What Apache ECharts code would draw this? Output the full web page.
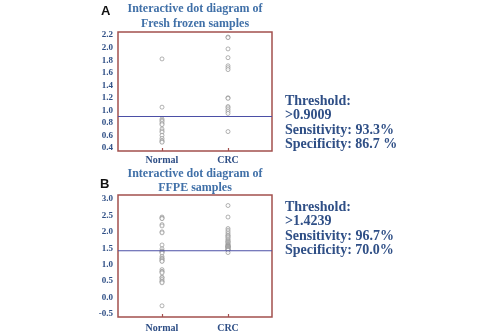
<!DOCTYPE html>
<html>
<head>
<meta charset="utf-8">
<script src="https://cdn.jsdelivr.net/npm/echarts@6/dist/echarts.min.js"></script>
<style>
  html, body { margin: 0; padding: 0; background: #fff; }
  #chart { width: 482px; height: 333px; }
</style>
</head>
<body>
<div id="chart"></div>
<script>
// groups on the x axis
var categories = ['Normal', 'CRC'];

// A: fresh frozen samples
var frozenNormal = [1.82, 1.05, 0.86, 0.84, 0.82, 0.79, 0.77, 0.70, 0.67, 0.65, 0.60, 0.55, 0.52, 0.50, 0.49];
var frozenCrc = [2.17, 2.16, 1.98, 1.84, 1.71, 1.68, 1.65, 1.20, 1.19, 1.06, 1.04, 1.01, 0.98, 0.95, 0.66];
var frozenTicks = [0.4, 0.6, 0.8, 1.0, 1.2, 1.4, 1.6, 1.8, 2.0, 2.2];
var frozenThreshold = 0.9009;
var frozenNotes = ['Threshold:', '>0.9009', 'Sensitivity: 93.3%', 'Specificity: 86.7 %'];

// B: FFPE samples
var ffpeNormal = [2.45, 2.42, 2.40, 2.22, 2.18, 2.00, 1.97, 1.60, 1.48,
    1.42, 1.40, 1.38, 1.35, 1.25, 1.20, 1.18, 1.15, 1.12, 1.10,
    0.85, 0.80, 0.78, 0.75, 0.62, 0.60, 0.55, 0.50, 0.48, 0.45, -0.25];
var ffpeCrc = [2.80, 2.45, 2.10, 2.05, 2.00, 1.95, 1.90, 1.88, 1.85, 1.82,
    1.78, 1.75, 1.72, 1.70, 1.68, 1.65, 1.62, 1.60, 1.58, 1.57,
    1.55, 1.55, 1.53, 1.52, 1.50, 1.48, 1.46, 1.45, 1.44, 1.37];
var ffpeTicks = [-0.5, 0.0, 0.5, 1.0, 1.5, 2.0, 2.5, 3.0];
var ffpeThreshold = 1.4239;
var ffpeNotes = ['Threshold:', '>1.4239', 'Sensitivity: 96.7%', 'Specificity: 70.0%'];

var serif = '"Liberation Serif", "DejaVu Serif", serif';
var labelBlue = '#2f4f86';
var titleBlue = '#4070a8';
var boxRed = '#a3504e';

function pts(vals, x) {
    return vals.map(function(v) { return [x, v]; });
}

function xAxisFor(idx) {
    return {
        type: 'value', gridIndex: idx, min: 1 / 3, max: 8 / 3,
        position: 'bottom',
        splitLine: { show: false },
        axisLine: { show: false, onZero: false },
        axisTick: { show: true, inside: true, length: 3, customValues: [1, 2],
            lineStyle: { color: boxRed, width: 1.2 } },
        axisLabel: {
            customValues: [1, 2],
            formatter: function(v) { return categories[Math.round(v) - 1]; },
            fontFamily: serif, fontWeight: 'bold', fontSize: 10, color: labelBlue,
            margin: idx === 0 ? 4 : 6
        }
    };
}

function yAxisFor(idx, min, max, ticks) {
    return {
        type: 'value', gridIndex: idx, min: min, max: max,
        splitLine: { show: false },
        axisLine: { show: false },
        axisTick: { show: false },
        axisLabel: {
            customValues: ticks,
            formatter: function(v) { return v.toFixed(1); },
            fontFamily: serif, fontWeight: 'bold', fontSize: 9, color: labelBlue,
            margin: 5
        }
    };
}

function dotSeries(vals, x, idx) {
    return {
        type: 'scatter', xAxisIndex: idx, yAxisIndex: idx,
        data: pts(vals, x),
        symbol: 'circle', symbolSize: 4,
        itemStyle: { color: '#fff', borderColor: '#888', borderWidth: 0.8 },
        silent: true
    };
}

function thresholdLine(idx, v) {
    return {
        type: 'line', xAxisIndex: idx, yAxisIndex: idx,
        data: [[1 / 3, v], [8 / 3, v]],
        symbol: 'none', silent: true,
        lineStyle: { color: '#4b4fa6', width: 1.2 }
    };
}

function notes(lines, top) {
    return lines.map(function(s, i) {
        return {
            type: 'text', left: 285, top: top + i * 14.5,
            style: { text: s, font: 'bold 14px ' + serif, fill: labelBlue }
        };
    });
}

function titleText(s, y) {
    return {
        type: 'text', x: 195, y: y,
        style: { text: s, font: 'bold 12px ' + serif, fill: titleBlue, textAlign: 'center', textVerticalAlign: 'middle' }
    };
}

var myChart = echarts.init(document.getElementById('chart'));

var option = {
    animation: false,
    grid: [
        { left: 118, top: 32, width: 154, height: 119, show: true, borderColor: boxRed, borderWidth: 1.5 },
        { left: 118, top: 195, width: 154, height: 122, show: true, borderColor: boxRed, borderWidth: 1.5 }
    ],
    xAxis: [xAxisFor(0), xAxisFor(1)],
    yAxis: [
        yAxisFor(0, 0.35, 2.25, frozenTicks),
        yAxisFor(1, -0.59, 3.12, ffpeTicks)
    ],
    series: [
        thresholdLine(0, frozenThreshold),
        dotSeries(frozenNormal, 1, 0),
        dotSeries(frozenCrc, 2, 0),
        thresholdLine(1, ffpeThreshold),
        dotSeries(ffpeNormal, 1, 1),
        dotSeries(ffpeCrc, 2, 1)
    ],
    graphic: [
        { type: 'text', left: 101, top: 5, style: { text: 'A', font: 'bold 13px "Liberation Sans", Arial, sans-serif', fill: '#111' } },
        { type: 'text', left: 100, top: 178, style: { text: 'B', font: 'bold 13px "Liberation Sans", Arial, sans-serif', fill: '#111' } },
        titleText('Interactive dot diagram of', 9),
        titleText('Fresh frozen samples', 24),
        titleText('Interactive dot diagram of', 174),
        titleText('FFPE samples', 188)
    ].concat(notes(frozenNotes, 94), notes(ffpeNotes, 200))
};

myChart.setOption(option);
</script>
</body>
</html>
